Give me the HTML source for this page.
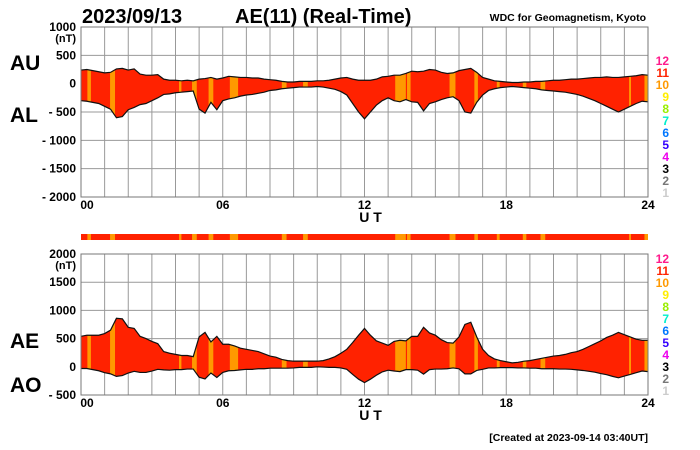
<!DOCTYPE html>
<html><head><meta charset="utf-8">
<style>
html,body{margin:0;padding:0;background:#fff;}
svg{display:block;font-family:"Liberation Sans",sans-serif;}
</style></head>
<body>
<svg id="chart" width="700" height="450" viewBox="0 0 700 450">
  <text x="82" y="23" font-size="20" font-weight="bold">2023/09/13</text>
  <text x="235" y="23" font-size="20" font-weight="bold">AE(11) (Real-Time)</text>
  <text x="646" y="21" font-size="10.5" font-weight="bold" text-anchor="end">WDC for Geomagnetism, Kyoto</text>
  <text x="648" y="441" font-size="10.5" font-weight="bold" text-anchor="end">[Created at 2023-09-14 03:40UT]</text>
  <g id="top"></g>
  <g id="strip"></g>
  <g id="bottom"></g>
</svg>
<script>
const au = [240,250,230,210,190,200,260,270,240,260,170,150,150,160,80,60,60,50,60,50,80,90,110,80,100,130,120,110,110,100,100,80,70,60,40,30,30,40,40,40,50,50,60,80,100,110,80,60,60,60,80,120,130,150,150,180,220,210,220,250,240,200,180,190,230,250,270,200,110,80,50,40,30,20,20,30,30,40,40,50,60,60,70,80,80,90,100,110,110,120,110,110,120,130,140,160,150];
const al = [-300,-310,-330,-350,-400,-450,-600,-580,-460,-420,-370,-350,-300,-250,-190,-180,-160,-150,-140,-130,-450,-520,-330,-460,-300,-270,-250,-220,-200,-190,-170,-150,-120,-110,-90,-80,-70,-60,-60,-60,-50,-60,-80,-100,-140,-200,-350,-500,-620,-500,-380,-300,-250,-300,-320,-280,-320,-330,-480,-350,-320,-280,-250,-230,-300,-500,-520,-330,-200,-120,-90,-70,-60,-50,-60,-70,-80,-90,-110,-120,-130,-140,-150,-170,-190,-220,-260,-300,-350,-400,-450,-500,-450,-400,-350,-310,-320];
const orangeStart = [0.27,1.23,4.15,4.7,5.4,6.3,8.5,9.4,13.3,13.8,15.6,16.65,17.6,18.7,19.45,23.2,23.85];
const orangeEnd   = [0.42,1.44,4.25,4.9,5.6,6.65,8.7,9.6,13.75,13.95,15.85,16.8,17.72,18.85,19.65,23.28,24];
const topTicks = [1000,500,0,-500,-1000,-1500,-2000];
const botTicks = [2000,1500,1000,500,0,-500];
const hourTicks = ["00","06","12","18","24"];
const legendNums = ["12","11","10","9","8","7","6","5","4","3","2","1"];
const legendCols = ["#ff1a8c","#ff2200","#ff9900","#ffee00","#99ee00","#00eecc","#0077ff","#3300ff","#ee00ee","#000000","#777777","#cccccc"];

const hours = au.map((v,i)=>i*24/(au.length-1));
const NS="http://www.w3.org/2000/svg";
const X0=81,X1=648;
const xs=h=>X0+(X1-X0)*h/24;
function mk(tag,attrs,parent){const e=document.createElementNS(NS,tag);for(const k in attrs)e.setAttribute(k,attrs[k]);parent.appendChild(e);return e;}

function panel(g,id,yTop,yBot,vMax,vMin,ticks,upper,lower,lblU,lblL,lblUy,lblLy,legTop,legStep){
  const ys=v=>yTop+(vMax-v)*(yBot-yTop)/(vMax-vMin);
  const bg=mk('rect',{x:X0,y:yTop,width:X1-X0,height:yBot-yTop,fill:'#fff'},g);
  
  
  for(let h=1;h<24;h++){
    const l=mk('line',{x1:xs(h),x2:xs(h),y1:yTop,y2:yBot,stroke:'#999','stroke-width':1},g);
    
    
  }
  ticks.forEach(v=>{
    const l=mk('line',{x1:X0,x2:X1,y1:ys(v),y2:ys(v),stroke:'#999','stroke-width':1},g);
    
    
    const t=mk('text',{x:76,y:ys(v)+4,'font-size':12,'font-weight':'bold','text-anchor':'end'},g);
    t.textContent=v<0?'- '+(-v):String(v);
    
    
  });
  const u=mk('text',{x:76,y:ys(ticks[0])+15,'font-size':11,'font-weight':'bold','text-anchor':'end'},g);
  u.textContent='(nT)';
  
  
  let pts=hours.map((h,i)=>xs(h)+','+ys(upper[i]));
  for(let i=hours.length-1;i>=0;i--)pts.push(xs(hours[i])+','+ys(lower[i]));
  const cp=mk('clipPath',{id:id+'-clip'},g);
  mk('polygon',{points:pts.join(' ')},cp);
  const area=mk('polygon',{points:pts.join(' '),fill:'#ff2200'},g);
  
  
  orangeStart.forEach((s,i)=>{
    const r=mk('rect',{x:xs(s),y:yTop,width:xs(orangeEnd[i])-xs(s),height:yBot-yTop,fill:'#ff9900','clip-path':'url(#'+id+'-clip)'},g);
    
    
  });
  const lu=mk('polyline',{points:hours.map((h,i)=>xs(h)+','+ys(upper[i])).join(' '),fill:'none',stroke:'#111','stroke-width':1.2},g);
  
  
  const ll=mk('polyline',{points:hours.map((h,i)=>xs(h)+','+ys(lower[i])).join(' '),fill:'none',stroke:'#111','stroke-width':1.2},g);
  
  
  const fr=mk('rect',{x:X0,y:yTop,width:X1-X0,height:yBot-yTop,fill:'none',stroke:'#777','stroke-width':1},g);
  
  
  hourTicks.forEach((t,i)=>{
    const e=mk('text',{x:xs(i*6)+(i==0?6:0),y:yBot+12,'font-size':12,'font-weight':'bold','text-anchor':'middle'},g);
    e.textContent=t;
    
    
  });
  const ut=mk('text',{x:xs(12)+6,y:yBot+25,'font-size':14,'font-weight':'bold','text-anchor':'middle'},g);
  ut.textContent='U T';
  
  
  const a=mk('text',{x:10,y:lblUy,'font-size':21,'font-weight':'bold'},g);
  a.textContent=lblU;
  
  
  const b=mk('text',{x:10,y:lblLy,'font-size':21,'font-weight':'bold'},g);
  b.textContent=lblL;
  
  
  legendNums.forEach((n,i)=>{
    const t=mk('text',{x:669,y:legTop+i*legStep,'font-size':12,'font-weight':'bold','text-anchor':'end',fill:legendCols[i]},g);
    t.textContent=n;
    
    
  });
}
const ae=au.map((v,i)=>v-al[i]);
const ao=au.map((v,i)=>(v+al[i])/2);
panel(document.getElementById('top'),'top',27,197,1000,-2000,topTicks,au,al,'AU','AL',70,122,65,12);
panel(document.getElementById('bottom'),'bottom',254,395,2000,-500,botTicks,ae,ao,'AE','AO',348,392,263,12);
const sg=document.getElementById('strip');
const sr=mk('rect',{x:X0,y:234,width:X1-X0,height:6,fill:'#ff2200'},sg);


orangeStart.forEach((s,i)=>{
  const r=mk('rect',{x:xs(s),y:234,width:xs(orangeEnd[i])-xs(s),height:6,fill:'#ff9900'},sg);
  
  
});
</script>
</body></html>
